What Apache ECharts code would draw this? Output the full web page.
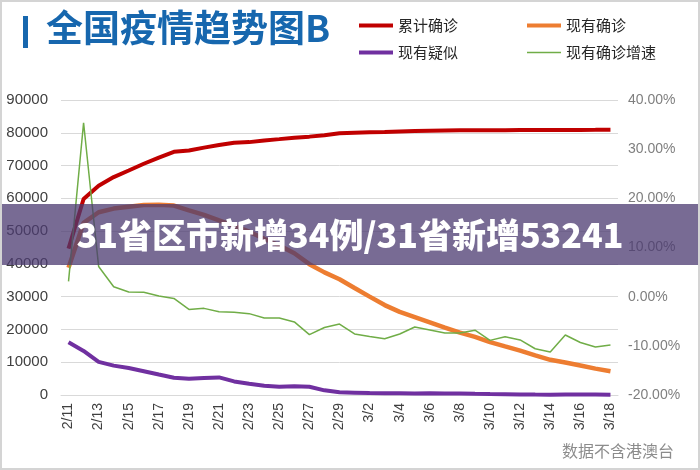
<!DOCTYPE html>
<html>
<head>
<meta charset="utf-8">
<script src="https://cdn.jsdelivr.net/npm/echarts@6/dist/echarts.min.js"></script>
<style>
  html, body { margin: 0; padding: 0; background: #fff; }
  #chart { width: 700px; height: 470px; }
</style>
</head>
<body>
<div id="chart"></div>
<script>
// dates 2/11 .. 3/18
var days = ['2/11','2/12','2/13','2/14','2/15','2/16','2/17','2/18','2/19','2/20',
            '2/21','2/22','2/23','2/24','2/25','2/26','2/27','2/28','2/29',
            '3/1','3/2','3/3','3/4','3/5','3/6','3/7','3/8','3/9','3/10',
            '3/11','3/12','3/13','3/14','3/15','3/16','3/17','3/18'];
// 累计确诊
var totalConfirmed = [44653,59804,63851,66492,68500,70548,72436,74185,74576,75465,
                      76288,76936,77150,77658,78064,78497,78824,79251,79824,
                      80026,80151,80270,80409,80552,80651,80695,80735,80754,80778,
                      80793,80813,80824,80844,80860,80881,80894,80928];
// 现有确诊
var currentConfirmed = [38800,52526,55748,56873,57416,57934,58016,57805,56303,54965,
                        53284,51606,49824,47672,45604,43258,39919,37414,35329,
                        32652,30004,27433,25352,23784,22177,20533,19016,17721,16145,
                        14831,13526,12094,10734,9898,8976,8056,7263];
// 现有疑似
var suspected = [16067,13435,10109,8969,8228,7264,6242,5248,4922,5206,
                 5365,4148,3434,2824,2491,2700,2500,1418,851,
                 715,587,520,522,482,502,458,421,349,285,
                 253,147,115,113,134,128,119,105];
// 现有确诊增速 (%)
var growth = [3.12,35.38,6.13,2.02,0.95,0.90,0.14,-0.36,-2.60,-2.38,
              -3.06,-3.15,-3.45,-4.32,-4.34,-5.14,-7.72,-6.28,-5.57,
              -7.58,-8.11,-8.57,-7.59,-6.18,-6.76,-7.41,-7.39,-6.81,-8.89,
              -8.14,-8.80,-10.59,-11.25,-7.79,-9.32,-10.25,-9.84];

var leftTicks = { min: 0, max: 90000, interval: 10000 };
var rightTicks = { min: -20, max: 40, interval: 10 };

var names = ['累计确诊', '现有确诊', '现有疑似', '现有确诊增速'];
var colors = ['#c00000', '#ed7d31', '#7030a0', '#70ad47'];

var myChart = echarts.init(document.getElementById('chart'));

function legendAt(name, left, top, h) {
  return {
    data: [name],
    left: left, top: top,
    icon: 'rect',
    itemWidth: 34, itemHeight: h,
    selectedMode: false,
    padding: 0,
    textStyle: { fontSize: 15, color: '#262626', fontFamily: 'Noto Sans CJK SC' }
  };
}

var option = {
  backgroundColor: '#fff',
  animation: false,
  legend: [
    legendAt(names[0], 359, 18, 4),
    legendAt(names[1], 527, 18, 4),
    legendAt(names[2], 359, 45, 4),
    legendAt(names[3], 527, 45, 1.5)
  ],
  grid: { left: 61, right: 82, top: 100, bottom: 75 },
  xAxis: {
    type: 'category',
    data: days,
    boundaryGap: true,
    axisLine: { lineStyle: { color: '#d9d9d9', width: 1 } },
    axisTick: { interval: 1, length: 6, lineStyle: { color: '#d9d9d9' } },
    axisLabel: {
      interval: 1, rotate: 90, margin: 8,
      fontSize: 14, color: '#404040', fontFamily: 'Liberation Sans'
    }
  },
  yAxis: [
    {
      type: 'value',
      min: leftTicks.min, max: leftTicks.max, interval: leftTicks.interval,
      axisLine: { show: false },
      axisTick: { show: false },
      splitLine: { lineStyle: { color: '#d9d9d9', width: 1 } },
      axisLabel: {
        fontSize: 15, color: '#404040', margin: 13, fontFamily: 'Liberation Sans',
        formatter: function (v) { return String(v); }
      }
    },
    {
      type: 'value',
      min: rightTicks.min, max: rightTicks.max, interval: rightTicks.interval,
      axisLine: { show: false },
      axisTick: { show: false },
      splitLine: { show: false },
      axisLabel: {
        fontSize: 14, color: '#7f7f7f', margin: 10, fontFamily: 'Liberation Sans',
        formatter: function (v) { return v.toFixed(2) + '%'; }
      }
    }
  ],
  series: [
    {
      name: names[0], type: 'line', data: totalConfirmed, symbol: 'none',
      lineStyle: { color: colors[0], width: 4 }, itemStyle: { color: colors[0] }
    },
    {
      name: names[1], type: 'line', data: currentConfirmed, symbol: 'none',
      lineStyle: { color: colors[1], width: 4.5 }, itemStyle: { color: colors[1] }
    },
    {
      name: names[2], type: 'line', data: suspected, symbol: 'none',
      lineStyle: { color: colors[2], width: 4 }, itemStyle: { color: colors[2] }
    },
    {
      name: names[3], type: 'line', data: growth, yAxisIndex: 1, symbol: 'none',
      lineStyle: { color: colors[3], width: 1.5 }, itemStyle: { color: colors[3] }
    }
  ],
  graphic: [
    // title
    { type: 'rect', z: 100, shape: { x: 23, y: 16, width: 5, height: 32 }, style: { fill: '#1767ae' } },
    {
      type: 'text', z: 100, left: 46, top: 9,
      style: { text: '全国疫情趋势图B', fill: '#1767ae', fontSize: 37, fontWeight: 'bold',
               fontFamily: 'Noto Sans CJK SC' }
    },
    // banner
    { type: 'rect', z: 100, shape: { x: 0, y: 204, width: 700, height: 61 },
      style: { fill: 'rgba(75,58,112,0.75)' } },
    {
      type: 'text', z: 101, x: 350, y: 235,
      style: { text: '31省区市新增34例/31省新增53241', fill: '#fff', fontSize: 34,
               fontWeight: 900, fontFamily: 'Noto Sans CJK SC',
               align: 'center', verticalAlign: 'middle' }
    },
    // note
    {
      type: 'text', z: 100, left: 562, top: 443,
      style: { text: '数据不含港澳台', fill: '#8c8c8c', fontSize: 16, fontFamily: 'Noto Sans CJK SC' }
    },
    // frame
    { type: 'rect', z: 100, shape: { x: 1, y: 1, width: 698, height: 468 },
      style: { fill: 'none', stroke: '#d4d4d4', lineWidth: 2 } }
  ]
};

myChart.setOption(option);
window.addEventListener('resize', function () { myChart.resize(); });
</script>
</body>
</html>
